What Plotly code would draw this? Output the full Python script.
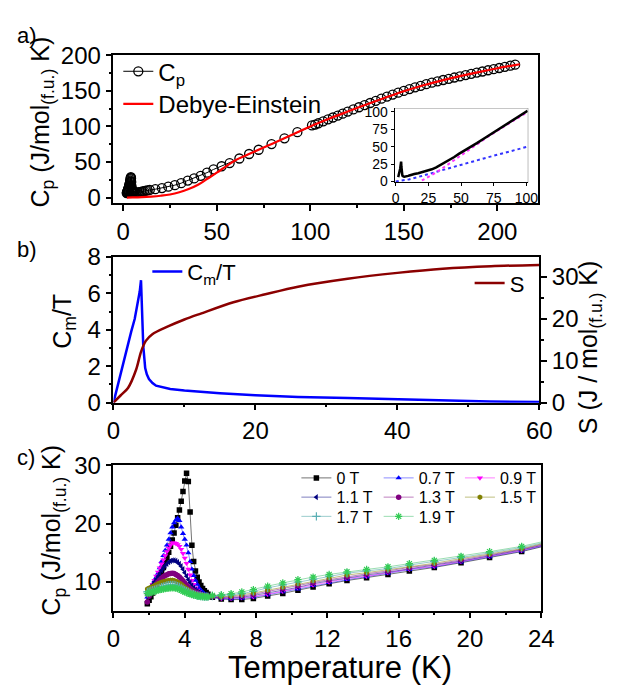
import plotly.graph_objects as go

# ---------------- data ----------------
# (c) low-temperature grid, shared by every field
T_low = [1.9, 2.0, 2.1, 2.2, 2.3, 2.4, 2.5, 2.6, 2.7, 2.8, 2.9, 3.0, 3.1, 3.2, 3.3, 3.4, 3.5, 3.6,
         3.7, 3.8, 3.9, 4.0, 4.1, 4.2, 4.3, 4.4, 4.5, 4.6, 4.7, 4.8, 4.9, 5.0, 5.1, 5.2, 5.3]
T_high = [5.55, 6.05, 6.6, 7.2, 7.85, 8.65, 9.5, 10.35, 11.2, 12.1, 13.1, 14.2, 15.4, 16.6,
          18.0, 19.5, 21.1, 22.9, 24.8]

field_labels = ["0 T", "0.7 T", "0.9 T", "1.1 T", "1.3 T", "1.5 T", "1.7 T", "1.9 T"]

cp_0T_low = [6.3, 6.9, 7.5, 8.1, 8.8, 9.5, 10.2, 10.9, 11.7, 12.5, 13.3, 14.2, 15.1, 16.1, 17.2, 18.4,
             19.7, 21.0, 22.3, 23.8, 25.5, 27.3, 28.6, 27.2, 22.0, 16.3, 13.5, 11.9, 10.8, 10.0, 9.4,
             8.9, 8.5, 8.2, 7.9]
cp_07T_low = [7.4, 8.3, 8.9, 9.6, 10.2, 10.8, 11.5, 12.4, 13.5, 14.5, 15.4, 16.3, 17.3, 18.4, 19.4, 20.1,
              20.6, 20.9, 20.5, 19.4, 18.3, 17.3, 16.3, 15.0, 13.5, 12.2, 11.1, 10.3, 9.6, 9.0, 8.6,
              8.3, 8.0, 7.8, 7.7]
cp_09T_low = [7.8, 8.4, 9.0, 9.6, 10.3, 11.0, 11.7, 12.4, 13.1, 13.8, 14.5, 15.2, 15.8, 16.3, 16.7, 16.7,
              16.6, 16.4, 16.1, 15.6, 14.9, 14.1, 13.2, 12.2, 11.2, 10.3, 9.6, 9.0, 8.6, 8.3, 8.0,
              7.85, 7.7, 7.6, 7.55]
cp_11T_low = [8.0, 8.5, 9.0, 9.5, 10.0, 10.5, 11.0, 11.5, 12.0, 12.4, 12.8, 13.1, 13.4, 13.6, 13.7, 13.7,
              13.6, 13.4, 13.1, 12.7, 12.2, 11.6, 11.0, 10.4, 9.9, 9.4, 9.0, 8.7, 8.4, 8.2, 8.0,
              7.85, 7.75, 7.65, 7.6]
cp_13T_low = [6.6, 7.6, 8.3, 8.8, 9.2, 9.6, 10.0, 10.35, 10.65, 10.9, 11.1, 11.25, 11.4, 11.45, 11.5,
              11.45, 11.3, 11.1, 10.85, 10.55, 10.2, 9.85, 9.5, 9.2, 8.9, 8.65, 8.45, 8.25, 8.1, 7.95,
              7.85, 7.75, 7.7, 7.6, 7.55]
cp_15T_low = [8.8, 8.95, 9.1, 9.25, 9.4, 9.55, 9.7, 9.85, 9.95, 10.05, 10.15, 10.2, 10.25, 10.3, 10.3,
              10.25, 10.15, 10.0, 9.8, 9.6, 9.35, 9.1, 8.85, 8.65, 8.45, 8.25, 8.1, 7.95, 7.85, 7.75,
              7.7, 7.65, 7.6, 7.55, 7.5]
cp_17T_low = [8.3, 8.4, 8.5, 8.6, 8.7, 8.8, 8.9, 9.0, 9.1, 9.2, 9.3, 9.4, 9.45, 9.5, 9.5, 9.5, 9.4, 9.3,
              9.15, 9.0, 8.8, 8.6, 8.45, 8.3, 8.15, 8.0, 7.9, 7.8, 7.7, 7.65, 7.6, 7.55, 7.5, 7.5, 7.5]
cp_19T_low = [8.0, 8.1, 8.2, 8.3, 8.4, 8.5, 8.6, 8.7, 8.75, 8.8, 8.85, 8.9, 8.95, 9.0, 9.0, 9.0, 8.95,
              8.85, 8.75, 8.6, 8.45, 8.3, 8.2, 8.05, 7.95, 7.85, 7.75, 7.7, 7.6, 7.55, 7.5, 7.5, 7.45,
              7.45, 7.45]

cp_0T_high = [7.4, 7.1, 7.0, 7.0, 7.2, 7.6, 8.05, 8.6, 9.15, 9.7, 10.25, 10.75, 11.3, 11.9, 12.5, 13.3,
              14.2, 15.2, 16.6]
cp_07T_high = [7.4, 7.2, 7.1, 7.2, 7.4, 7.8, 8.3, 8.8, 9.4, 9.9, 10.4, 10.9, 11.5, 12.1, 12.6, 13.4,
               14.3, 15.3, 16.7]
cp_09T_high = [7.5, 7.2, 7.2, 7.3, 7.5, 7.9, 8.4, 9.0, 9.5, 10.0, 10.6, 11.0, 11.6, 12.2, 12.7, 13.5,
               14.4, 15.4, 16.8]
cp_11T_high = [7.5, 7.3, 7.3, 7.4, 7.7, 8.1, 8.6, 9.1, 9.7, 10.2, 10.7, 11.2, 11.7, 12.3, 12.9, 13.6,
               14.5, 15.5, 16.8]
cp_13T_high = [7.5, 7.4, 7.5, 7.6, 7.9, 8.4, 8.9, 9.4, 9.9, 10.4, 10.9, 11.4, 11.9, 12.5, 13.0, 13.8,
               14.7, 15.6, 17.0]
cp_15T_high = [7.6, 7.5, 7.6, 7.8, 8.1, 8.6, 9.1, 9.7, 10.2, 10.7, 11.2, 11.6, 12.1, 12.7, 13.2, 14.0,
               14.8, 15.7, 17.1]
cp_17T_high = [7.6, 7.7, 7.8, 8.0, 8.4, 9.0, 9.5, 10.0, 10.5, 11.0, 11.5, 11.9, 12.3, 12.9, 13.5, 14.2,
               15.0, 15.9, 17.2]
cp_19T_high = [7.7, 7.8, 8.0, 8.3, 8.7, 9.3, 9.85, 10.4, 10.85, 11.3, 11.75, 12.15, 12.6, 13.15, 13.7,
               14.4, 15.2, 16.1, 17.4]

# (a) zero-field Cp above 17 K
Ta_hi = [17.2, 20.7, 24.1, 27.6, 31.0, 34.5, 37.9, 41.4, 44.8, 48.3, 52.6, 56.9, 62.1, 67.3, 72.4, 79.3,
         86.2, 93.1, 100.9, 102.6, 104.3, 106.9, 109.5, 112.1, 114.7, 117.3, 120.0, 123.0, 126.0, 129.0,
         132.0, 135.0, 138.0, 141.0, 144.0, 147.0, 150.0, 153.0, 156.0, 159.0, 162.0, 165.0, 168.0,
         171.0, 174.0, 177.0, 180.0, 183.0, 186.0, 189.0, 192.0, 195.0, 198.0, 201.0, 204.0, 207.0, 209.5]
Cpa_hi = [11.8, 13.4, 15.3, 17.5, 20.3, 23.9, 27.0, 30.6, 35.1, 39.6, 44.1, 48.6, 55.0, 61.3, 67.3, 75.2,
          83.3, 92.0, 101.4, 102.7, 104.5, 107.2, 110.0, 112.6, 115.3, 118.0, 121.0, 124.0, 127.0, 130.0,
          133.0, 136.0, 139.0, 142.0, 144.8, 147.5, 150.0, 152.5, 155.0, 157.2, 159.4, 161.5, 163.5,
          165.3, 167.0, 168.8, 170.5, 172.3, 174.0, 175.7, 177.3, 179.0, 180.6, 182.2, 183.8, 185.4, 186.8]

# (a) Debye-Einstein fit
T_fit = [2, 5, 10, 15, 20, 25, 30, 35, 40, 45, 50, 55, 60, 65, 70, 80, 90, 100, 110, 120, 130, 140,
         150, 160, 170, 180, 190, 200, 212]
Cp_fit = [0.1, 0.2, 0.6, 1.4, 2.6, 4.4, 7.5, 12.0, 18.0, 26.5, 35.0, 44.0, 52.5, 58.5, 64.5, 76.0, 88.0,
          100.0, 110.8, 121.0, 131.0, 140.5, 149.5, 157.5, 164.5, 170.8, 176.5, 181.8, 187.5]

# (a, inset) individual contributions
T_ins_blue = [0, 10, 20, 30, 40, 50, 60, 70, 80, 90, 100]
C_ins_blue = [0, 3.0, 8.0, 13.5, 19.0, 24.5, 29.5, 34.5, 39.5, 44.5, 49.5]
T_ins_mag = [20, 25, 30, 35, 40, 50, 60, 70, 80, 90, 100]
C_ins_mag = [1.5, 6.5, 12.0, 18.0, 24.5, 38.0, 51.0, 63.5, 75.5, 87.0, 98.5]

# (b) magnetic heat capacity over T and entropy
T_cm = [0, 1, 2, 2.5, 3.0, 3.4, 3.7, 3.88, 4.0, 4.2, 4.47, 4.7, 5.0, 5.5, 6.0, 7.0, 8.0, 10, 12, 15, 20,
        26, 33, 40, 46, 53, 60]
CmT = [0, 1.6, 3.2, 3.9, 4.6, 5.4, 6.1, 6.72, 4.9, 3.1, 1.9, 1.55, 1.3, 1.08, 0.93, 0.82, 0.75, 0.66,
       0.59, 0.51, 0.40, 0.31, 0.25, 0.18, 0.11, 0.06, 0.03]
T_S = [0, 1, 2.05, 3.2, 3.88, 4.56, 5.48, 7.76, 10, 12.3, 16.9, 21.4, 26, 33, 40, 46.4, 53.2, 60]
S_vals = [0, 1.7, 3.5, 7.9, 12.1, 14.7, 16.3, 18.2, 19.8, 21.2, 23.9, 25.8, 27.6, 29.5, 30.9, 31.9,
          32.5, 32.8]

# ---------------- layout helpers ----------------
W, H = 622, 697
FONT = "Liberation Sans, Arial, sans-serif"
TICK = 24


def fx(p):
    return p / W


def fy(p):
    return 1 - p / H


def minor(step):
    return dict(dtick=step, ticks="outside", ticklen=3, tickwidth=1.5, tickcolor="black")


def axis_style(**kw):
    base = dict(showline=True, linecolor="black", linewidth=1.5, ticks="outside", ticklen=6,
                tickwidth=1.5, tickcolor="black", showgrid=False, zeroline=False,
                tickfont=dict(family=FONT, size=TICK, color="black"))
    base.update(kw)
    return base


fig = go.Figure()

# ---------------- panel a ----------------
Ta = T_low + T_high[:12] + Ta_hi
Cpa = cp_0T_low + cp_0T_high[:12] + Cpa_hi

fig.add_trace(go.Scatter(x=Ta, y=Cpa, mode="lines+markers", name="C<sub>p</sub>",
                         line=dict(color="black", width=1),
                         marker=dict(symbol="circle-open", size=9, color="black", line=dict(width=1.3)),
                         xaxis="x", yaxis="y", legend="legend"))
fig.add_trace(go.Scatter(x=T_fit, y=Cp_fit, mode="lines", name="Debye-Einstein", line_shape="spline",
                         line=dict(color="#FF0000", width=2.2), xaxis="x", yaxis="y", legend="legend2"))

# inset
Ti = [t for t in Ta if t <= 101]
Ci = [c for t, c in zip(Ta, Cpa) if t <= 101]
fig.add_trace(go.Scatter(x=T_ins_blue, y=C_ins_blue, mode="lines", showlegend=False,
                         line=dict(color="#3333FF", width=2, dash="dot"), xaxis="x2", yaxis="y2"))
fig.add_trace(go.Scatter(x=T_ins_mag, y=C_ins_mag, mode="lines", showlegend=False,
                         line=dict(color="#FF33FF", width=2, dash="dot"), xaxis="x2", yaxis="y2"))
fig.add_trace(go.Scatter(x=Ti, y=Ci, mode="lines", showlegend=False,
                         line=dict(color="black", width=2.5), xaxis="x2", yaxis="y2"))

# ---------------- panel b ----------------
fig.add_trace(go.Scatter(x=T_S, y=S_vals, mode="lines", name="S", line_shape="spline",
                         line=dict(color="#8B0000", width=2.5, smoothing=0.8),
                         xaxis="x3", yaxis="y4", legend="legend4"))
fig.add_trace(go.Scatter(x=T_cm, y=CmT, mode="lines", name="C<sub>m</sub>/T",
                         line=dict(color="#0000FF", width=2.5), xaxis="x3", yaxis="y3", legend="legend3"))

# ---------------- panel c ----------------
series_c = [
    (cp_0T_low, cp_0T_high, "square", "#000000", "rgba(0,0,0,0.55)"),
    (cp_07T_low, cp_07T_high, "triangle-up", "#0000FF", "rgba(0,0,255,0.45)"),
    (cp_09T_low, cp_09T_high, "triangle-down", "#FF00FF", "rgba(255,0,255,0.5)"),
    (cp_11T_low, cp_11T_high, "triangle-left", "#000080", "rgba(0,0,128,0.5)"),
    (cp_13T_low, cp_13T_high, "circle", "#800080", "rgba(128,0,128,0.5)"),
    (cp_15T_low, cp_15T_high, "hexagon", "#808000", "rgba(128,128,0,0.5)"),
    (cp_17T_low, cp_17T_high, "cross-thin-open", "#5AAFB4", "rgba(0,128,128,0.4)"),
    (cp_19T_low, cp_19T_high, "asterisk-open", "#33CC55", "rgba(0,170,60,0.4)"),
]
# legend columns / rows of the field legend
leg_cols = [299, 384, 468]
leg_rows = [482.7, 502.7, 522.7]
for i, (lo, hi, sym, mcol, lcol) in enumerate(series_c):
    marker = dict(symbol=sym, size=5.5, color=mcol)
    if sym.endswith("-open"):
        marker["line"] = dict(width=1.2, color=mcol)
        marker["size"] = 6
    else:
        marker["line"] = dict(width=0)
    fig.add_trace(go.Scatter(x=T_low + T_high, y=lo + hi, mode="lines+markers", name=field_labels[i],
                             line=dict(color=lcol, width=1), marker=marker,
                             xaxis="x4", yaxis="y5", legend=f"legend{5 + i}"))

# ---------------- axes ----------------
layout = dict(
    width=W, height=H, autosize=False,
    margin=dict(l=0, r=0, t=0, b=0),
    paper_bgcolor="white", plot_bgcolor="white",
    font=dict(family=FONT, color="black"),
    xaxis=axis_style(domain=[fx(110), fx(549)], range=[-5.2, 221.9], anchor="y", mirror=True,
                     tick0=0, dtick=50, minor=minor(25)),
    yaxis=axis_style(domain=[fy(197), fy(43)], range=[-8.1, 200], anchor="x", mirror=True,
                     tick0=0, dtick=50, minor=minor(25)),
    xaxis2=axis_style(domain=[fx(400.7), fx(538)], range=[-0.7, 101], anchor="y2", tick0=0, dtick=25,
                      ticklen=3, tickwidth=1, linewidth=1.2, tickfont=dict(family=FONT, size=14, color="black")),
    yaxis2=axis_style(domain=[fy(175), fy(98.3)], range=[-1, 104.7], anchor="x2", tick0=0, dtick=25,
                      ticklen=3, tickwidth=1, linewidth=1.2, tickfont=dict(family=FONT, size=14, color="black")),
    xaxis3=axis_style(domain=[fx(110), fx(550)], range=[0, 60], anchor="y3", mirror=True, tick0=0, dtick=20,
                      minor=minor(10)),
    yaxis3=axis_style(domain=[fy(404.3), fy(252.7)], range=[0, 8], anchor="x3", tick0=0, dtick=2,
                      minor=minor(1)),
    yaxis4=axis_style(range=[0, 34.7], anchor="x3", overlaying="y3", side="right", tick0=0, dtick=10,
                      minor=minor(5)),
    xaxis4=axis_style(domain=[fx(110), fx(552)], range=[0, 24], anchor="y5", mirror=True, tick0=0, dtick=4,
                      minor=minor(2)),
    yaxis5=axis_style(domain=[fy(620.7), fy(469.3)], range=[5.1, 30], anchor="x4", mirror=True, tick0=0,
                      dtick=10, minor=minor(5)),
)


def leg(xp, yp, size):
    return dict(x=fx(xp), y=fy(yp), xanchor="left", yanchor="middle", bgcolor="rgba(0,0,0,0)",
                borderwidth=0, font=dict(family=FONT, size=size, color="black"))


layout["legend"] = leg(115, 60, 24)
layout["legend2"] = leg(115, 94, 24)
layout["legend3"] = leg(145, 268, 22)
layout["legend4"] = leg(478, 280, 22)
for i in range(8):
    layout[f"legend{5 + i}"] = leg(leg_cols[i % 3], leg_rows[i // 3], 16)

fig.update_layout(**layout)

# inset frame: grey top/right edges
fig.add_shape(type="rect", xref="x2 domain", yref="y2 domain", x0=0, x1=1, y0=0, y1=1,
              line=dict(color="#8C8C8C", width=1.2), fillcolor="white", layer="below")


def text(xp, yp, s, size, angle=0, anchor="center"):
    fig.add_annotation(x=fx(xp), y=fy(yp), xref="paper", yref="paper", text=s, showarrow=False,
                       textangle=angle, xanchor=anchor, yanchor="middle",
                       font=dict(family=FONT, size=size, color="black"))


text(8, 22, "a)", 22, anchor="left")
text(8, 245, "b)", 22, anchor="left")
text(8, 461, "c)", 22, anchor="left")
text(36, 112, "C<sub>p</sub> (J/mol<sub>(f.u.)</sub> K)", 25, angle=-90)
text(58, 320, "C<sub>m</sub>/T", 25, angle=-90)
text(602, 347, "S (J / mol<sub>(f.u.)</sub> K)", 25, angle=-90)
text(48, 537, "C<sub>p</sub> (J/mol<sub>(f.u.)</sub> K)", 25, angle=-90)
text(344, 680, "Temperature (K)", 31)

fig.write_html("out.html")
